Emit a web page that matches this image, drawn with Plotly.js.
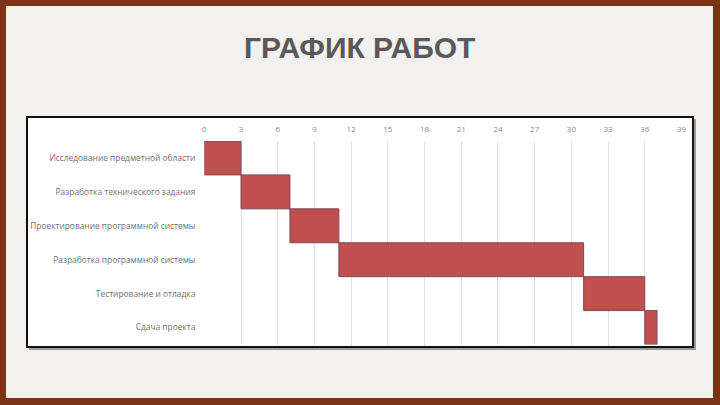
<!DOCTYPE html>
<html>
<head>
<meta charset="utf-8">
<script src="https://cdn.plot.ly/plotly-3.0.1.min.js"></script>
<style>
html,body{margin:0;padding:0;background:#7a3517;}
#chart{width:720px;height:405px;}
</style>
</head>
<body>
<div id="chart"></div>
<script>
const tasks = [
  "Исследование предметной области",
  "Разработка технического задания",
  "Проектирование программной системы",
  "Разработка программной системы",
  "Тестирование и отладка",
  "Сдача проекта"
];
const starts = [0, 3, 7, 11, 31, 36];
const durations = [3, 4, 4, 20, 5, 1];
const xTicks = [0, 3, 6, 9, 12, 15, 18, 21, 24, 27, 30, 33, 36, 39];
const slideTitle = "ГРАФИК РАБОТ";

const W = 720, H = 405;
const px = v => v / W;
const py = v => 1 - v / H;

const trace = {
  type: 'bar',
  orientation: 'h',
  y: tasks,
  x: durations,
  base: starts,
  marker: {color: '#c0504d', line: {color: '#7d4a58', width: 1}},
  hoverinfo: 'skip',
  showlegend: false
};

const layout = {
  width: W, height: H,
  margin: {l: 0, r: 0, t: 0, b: 0},
  paper_bgcolor: '#7a3517',
  plot_bgcolor: 'rgba(0,0,0,0)',
  bargap: 0,
  showlegend: false,
  xaxis: {
    domain: [px(204.3), px(681.5)],
    range: [0, 39],
    side: 'top',
    tickvals: xTicks,
    ticktext: xTicks.map(String),
    showgrid: true,
    gridcolor: '#e3e3e3',
    gridwidth: 1,
    zeroline: false,
    showline: false,
    ticks: '',
    ticklabelstandoff: 6,
    tickfont: {family: 'Open Sans, sans-serif', size: 8, color: '#8a8a8a'},
    fixedrange: true
  },
  yaxis: {
    domain: [py(344.5), py(141)],
    autorange: 'reversed',
    type: 'category',
    showgrid: false,
    zeroline: false,
    showline: false,
    ticks: '',
    ticklabelstandoff: 8,
    tickfont: {family: 'Open Sans, sans-serif', size: 8.4, color: '#707070'},
    fixedrange: true
  },
  shapes: [
    {type: 'rect', xref: 'paper', yref: 'paper', x0: px(6), x1: px(713), y0: py(6), y1: py(398),
     fillcolor: '#f2f1ef', line: {width: 0}, layer: 'below'},
    {type: 'rect', xref: 'paper', yref: 'paper', x0: px(29), x1: px(696), y0: py(119), y1: py(350),
     fillcolor: '#9a9a9a', line: {width: 0}, layer: 'below'},
    {type: 'rect', xref: 'paper', yref: 'paper', x0: px(27), x1: px(693), y0: py(117), y1: py(347),
     fillcolor: '#ffffff', line: {color: '#111111', width: 2}, layer: 'below'}
  ],
  annotations: [
    {text: '<b>' + slideTitle + '</b>', xref: 'paper', yref: 'paper', x: px(359.5), y: py(47.5),
     xanchor: 'center', yanchor: 'middle', showarrow: false,
     font: {family: 'Liberation Sans, Arial, sans-serif', size: 30, color: '#595959'}}
  ]
};

Plotly.newPlot('chart', [trace], layout, {displayModeBar: false, staticPlot: true});
</script>
</body>
</html>
